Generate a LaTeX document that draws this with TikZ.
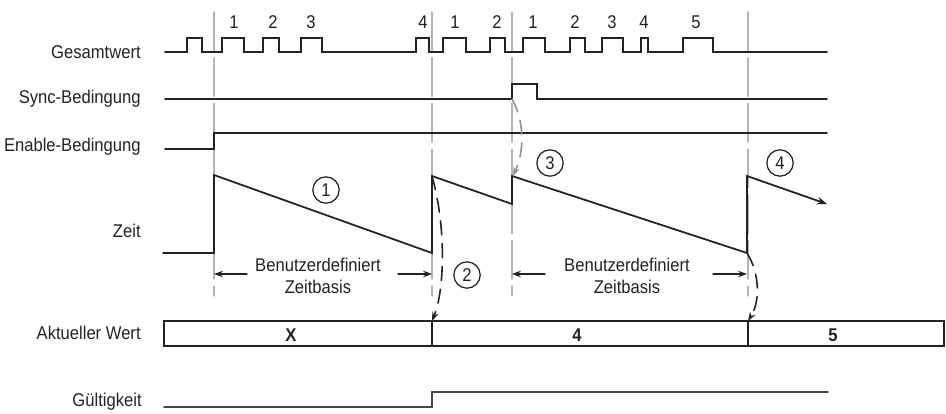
\documentclass[tikz,border=0pt]{standalone}
\usepackage{fontspec}
\setmainfont{Liberation Sans}[FakeStretch=0.9]
\usepackage{tikz}
\usetikzlibrary{arrows.meta}
\definecolor{ink}{HTML}{222222}
\definecolor{guidegray}{HTML}{B4B4B4}
\definecolor{validgray}{HTML}{484848}
\tikzset{
  sig/.style={ink,line width=1pt},
  guide/.style={guidegray,line width=0.6pt,dash pattern=on 22pt off 4pt},
  lbl/.style={anchor=east,inner sep=0pt,text=ink},
  pnum/.style={inner sep=0pt,text=ink},
  cnum/.style={circle,draw=ink,line width=0.7pt,inner sep=0pt,minimum size=15pt,text=ink},
  dimarrow/.style={ink,line width=0.7pt,-{Stealth[length=1.8mm,width=1.3mm]}},
  curarrow/.style={ink,line width=0.9pt,dash pattern=on 8pt off 5pt,-{Stealth[length=1.8mm,width=1.3mm]}},
  cellnum/.style={font=\fontsize{10.5}{12}\bfseries,inner sep=0pt,text=ink}
}
\begin{document}
\begin{tikzpicture}[x=0.02cm,y=-0.02cm,font=\fontsize{10.5}{12.5}\selectfont,line cap=round]
\useasboundingbox (0,0) rectangle (946,413);
% guide lines
\foreach \x in {214,432,512,748}
  \draw[guide] (\x,12) -- (\x,296);
% row labels
\node[lbl] (lges) at (141,52) {Gesamtwert};
\node[lbl] (lsync) at (141,99) {Sync-Bedingung};
\node[lbl] (lena) at (141,147) {Enable-Bedingung};
\node[lbl] (lzeit) at (141,231) {Zeit};
\node[lbl] (lakt) at (141,333) {Aktueller Wert};
\node[lbl] (lgue) at (142,402) {Gültigkeit};
% Gesamtwert
\draw[sig] (165,52)
  \foreach \a/\b in {187/202,222/244,263/279,301/322,416/429,443/466,490/505,523/545,570/585,602/623,641/648,683/713}
    { -- (\a,52) -- (\a,38) -- (\b,38) -- (\b,52) } -- (827,52);
\foreach \x/\n [count=\i] in {234/1,273/2,311/3,423/4,455/1,497/2,533/1,575/2,612/3,644/4,696/5}
  \node[pnum] (p\i) at (\x,22) {\n};
% Sync-Bedingung
\draw[sig] (165,99) -- (512,99) -- (512,84) -- (537,84) -- (537,99) -- (827,99);
% Enable-Bedingung
\draw[sig] (165,149) -- (214,149) -- (214,133) -- (827,133);
% Zeit
\draw[sig,-{Stealth[length=2mm,width=1.5mm]}] (163,253) -- (214,253) -- (214,175) -- (432,253) -- (432,176)
  -- (512,204) -- (512,176) -- (747,253) -- (747,176) -- (827,204);
\coordinate (ztop2) at (432,176);
\coordinate (zsync) at (513,176);
\coordinate (zend) at (747,253);
\coordinate (syncup) at (512,99);
\node[cnum] (c1) at (326,190) {1};
\node[cnum] (c2) at (467,275) {2};
\node[cnum] (c3) at (550,163) {3};
\node[cnum] (c4) at (780,163) {4};
% Zeitbasis
\node[align=center,inner sep=0pt,text=ink] (zb1) at (318,276) {Benutzerdefiniert\\Zeitbasis};
\node[align=center,inner sep=0pt,text=ink] (zb2) at (627,276) {Benutzerdefiniert\\Zeitbasis};
\coordinate (g1) at (214,274);
\coordinate (g2) at (432,274);
\coordinate (g3) at (512,274);
\coordinate (g4) at (747,274);
\draw[dimarrow] (247,274) -- (g1);
\draw[dimarrow] (398,274) -- (g2);
\draw[dimarrow] (545,274) -- (g3);
\draw[dimarrow] (713,274) -- (g4);
% Aktueller Wert
\draw[sig] (164,321) rectangle (944,346);
\coordinate (v1) at (432,321);
\coordinate (v2) at (748,321);
\draw[sig] (v1) -- (432,346);
\draw[sig] (v2) -- (748,346);
\node[cellnum] (wx) at (291,335) {X};
\node[cellnum] (w4) at (577,335) {4};
\node[cellnum] (w5) at (833,335) {5};
% Gueltigkeit
\draw[sig,validgray] (164,407) -- (432,407) -- (432,392) -- (828,392);
% curved arrows
\draw[curarrow] (ztop2) .. controls (447,230) and (444,292) .. (v1);
\draw[curarrow] (zend) .. controls (759,272) and (761,300) .. (v2);
\draw[curarrow,guidegray!80!black] (syncup) .. controls (524,120) and (525,150) .. (zsync);
\end{tikzpicture}
\end{document}
